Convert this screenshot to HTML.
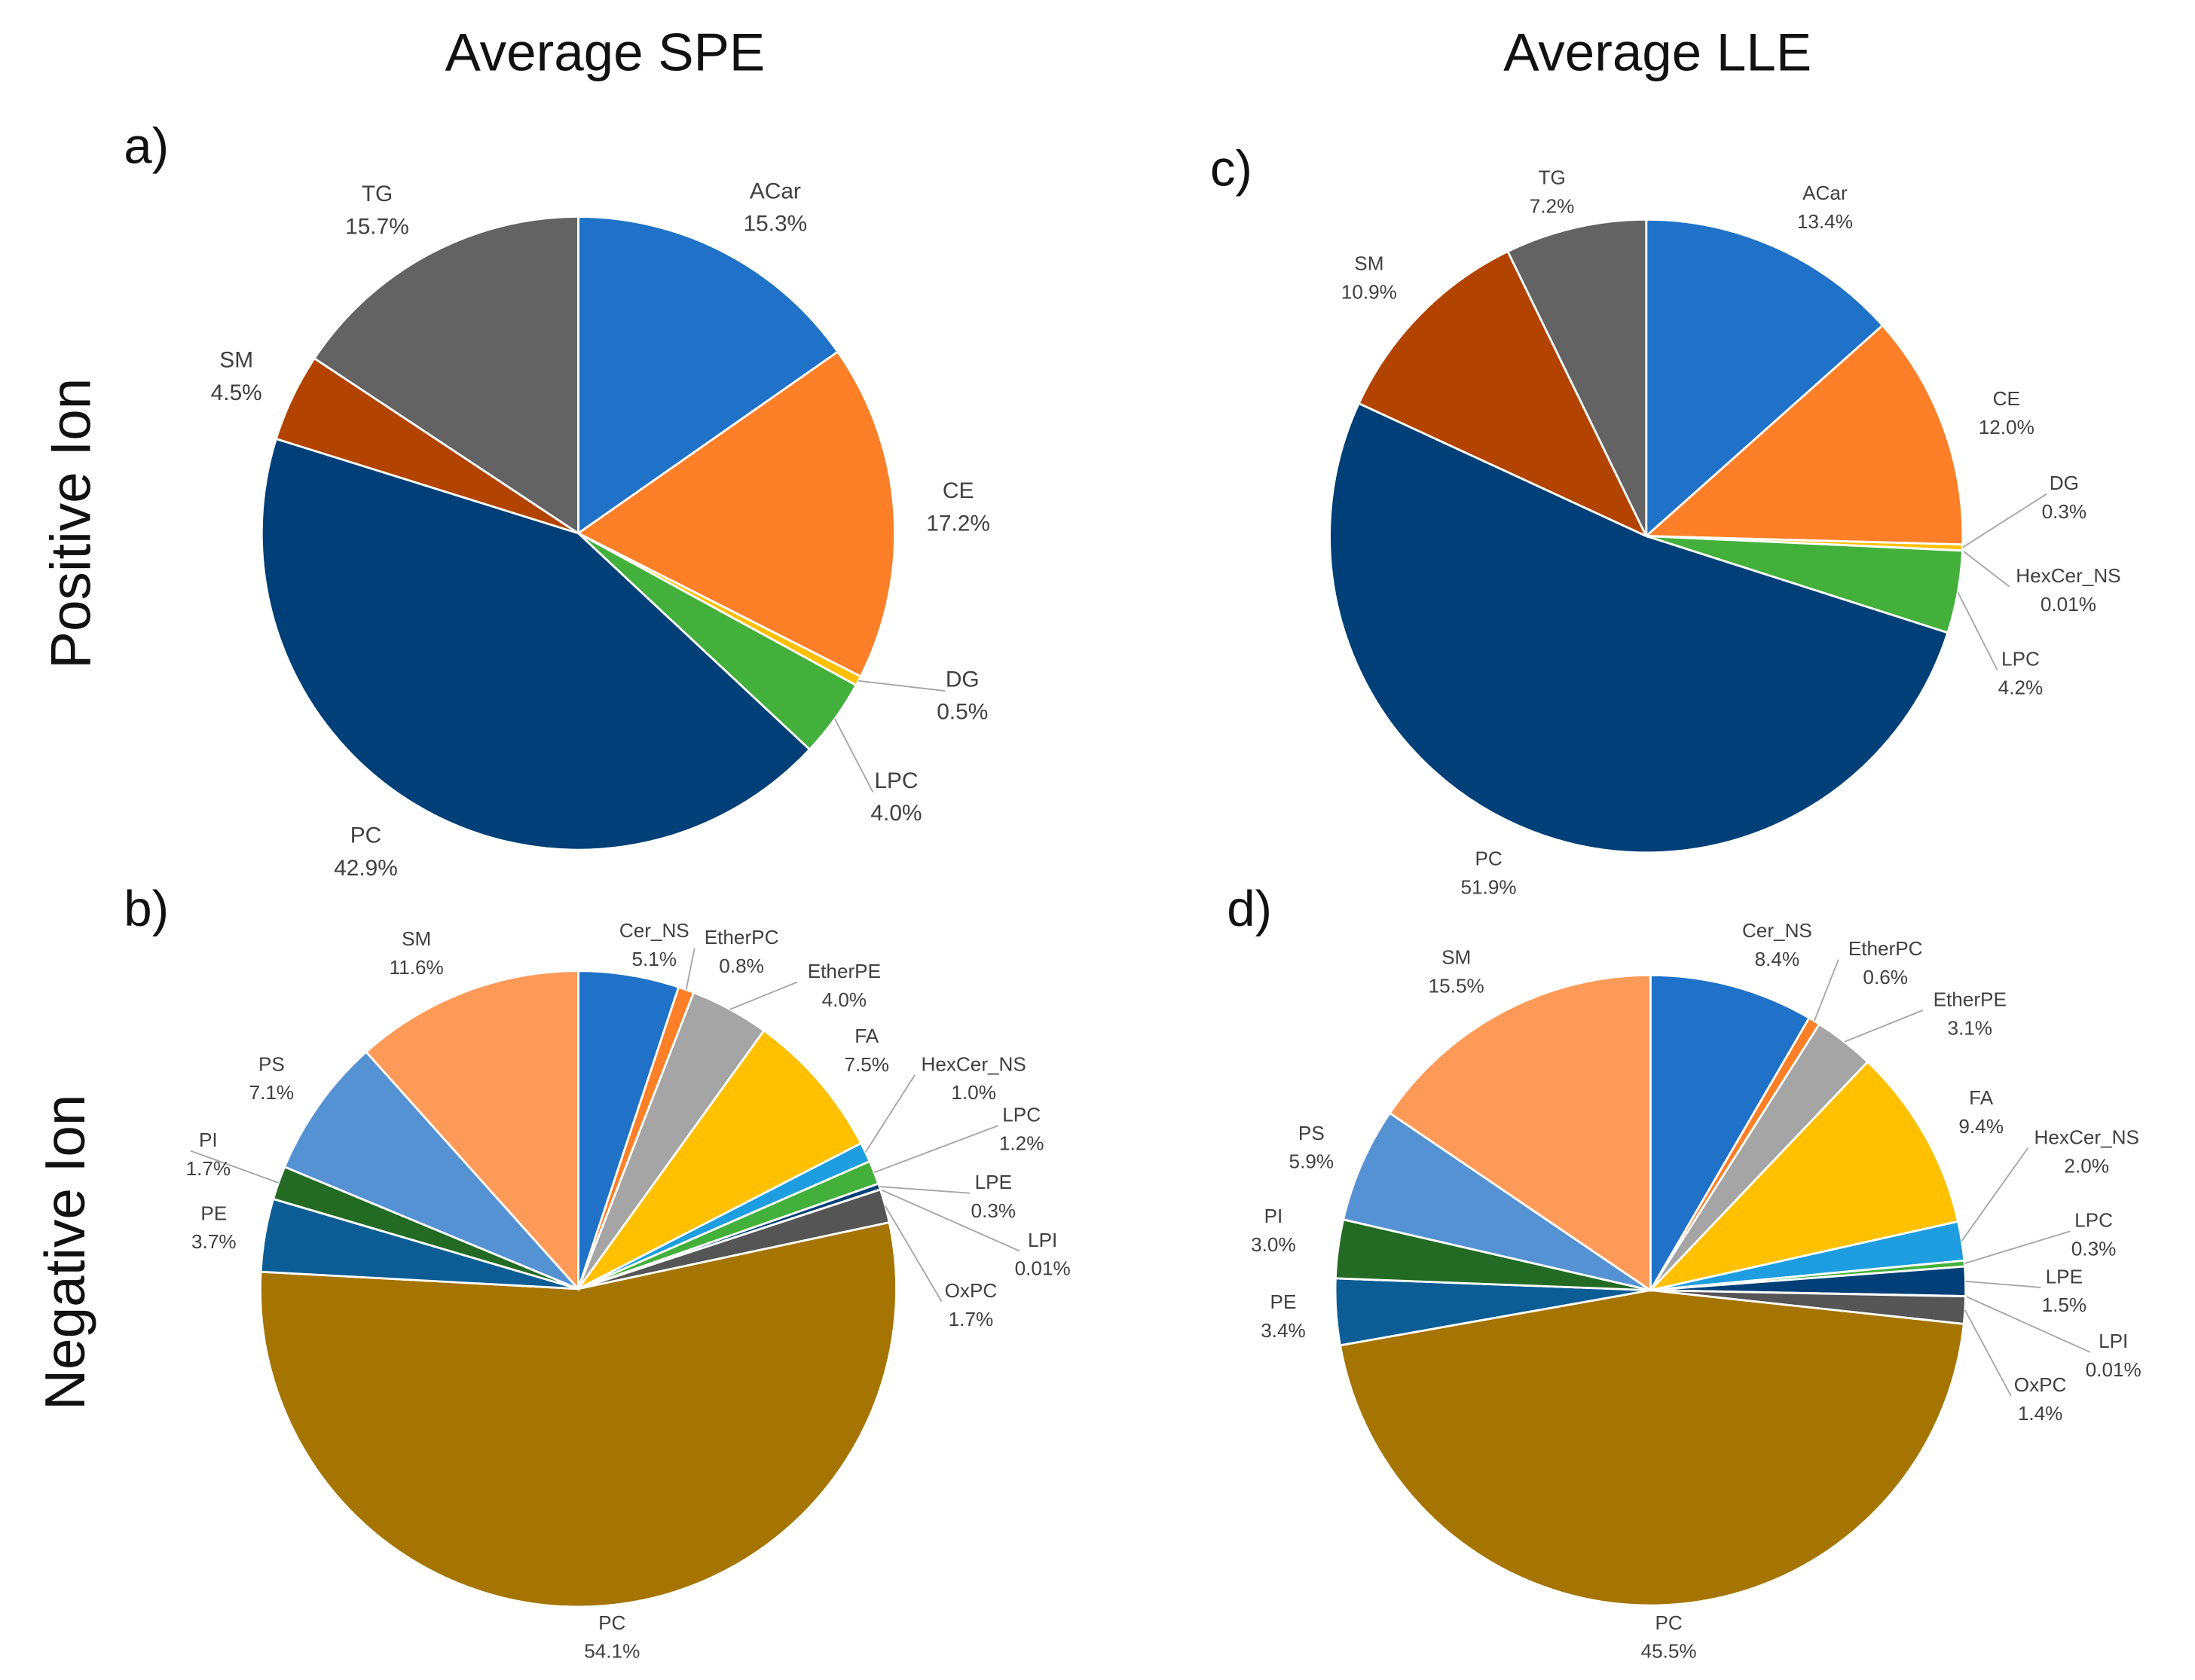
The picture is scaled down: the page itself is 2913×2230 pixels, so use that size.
<!DOCTYPE html>
<html><head><meta charset="utf-8"><style>
html,body{margin:0;padding:0;background:#fff;}
svg{display:block;}
text{font-family:"Liberation Sans",sans-serif;}
</style></head><body>
<svg id="chart" width="2913" height="2230" viewBox="0 0 1560 1194" preserveAspectRatio="none" xmlns="http://www.w3.org/2000/svg">
<rect width="1560" height="1194" fill="#fff"/>
<text x="430" y="50" font-size="38" text-anchor="middle" fill="#111">Average SPE</text>
<text x="1178" y="50" font-size="38" text-anchor="middle" fill="#111">Average LLE</text>
<text x="88" y="116" font-size="36" fill="#111">a)</text>
<text x="860" y="132" font-size="36" fill="#111">c)</text>
<text x="88" y="658" font-size="36" fill="#111">b)</text>
<text x="872" y="658" font-size="36" fill="#111">d)</text>
<text transform="translate(64,372) rotate(-90)" font-size="40" text-anchor="middle" fill="#111">Positive Ion</text>
<text transform="translate(60,890) rotate(-90)" font-size="40" text-anchor="middle" fill="#111">Negative Ion</text>
<g id="pies"></g>
</svg>
<script>
// Panel a) SPE positive
const catsA = ["ACar","CE","DG","LPC","PC","SM","TG"];
const valsA = [15.3,17.2,0.5,4.0,42.9,4.5,15.7];
const colsA = ["#1f72c8","#fd7f28","#fdbf00","#43b03b","#003f77","#b24300","#636363"];
const labA = [[551,136],[681,349],[684,483],[637,555],[260,594],[168,256],[268,138]];
const leadA = ["DG","LPC"];
// Panel c) LLE positive
const catsC = ["ACar","CE","DG","HexCer_NS","LPC","PC","SM","TG"];
const valsC = [13.4,12.0,0.3,0.01,4.2,51.9,10.9,7.2];
const colsC = ["#1f72c8","#fd7f28","#fdbf00","#1e9ee0","#43b03b","#003f77","#b24300","#636363"];
const labC = [[1297,137],[1426,283],[1467,343],[1470,409],[1436,468],[1058,610],[973,187],[1103,126]];
const leadC = ["DG","HexCer_NS","LPC"];
// Panel b) SPE negative
const catsB = ["Cer_NS","EtherPC","EtherPE","FA","HexCer_NS","LPC","LPE","LPI","OxPC","PC","PE","PI","PS","SM"];
const valsB = [5.1,0.8,4.0,7.5,1.0,1.2,0.3,0.01,1.7,54.1,3.7,1.7,7.1,11.6];
const colsB = ["#1f72c8","#fd7f28","#a5a5a5","#ffc000","#1e9ee0","#43b03b","#003f77","#9a4a10","#555555","#a67400","#0c5d96","#236b24","#5592d4","#fe9a57"];
const labB = [[465,661],[527,666],[600,690],[616,736],[692,756],[726,792],[706,840],[741,881],[690,917],[435,1153],[152,862],[148,810],[193,756],[296,667]];
const leadB = ["EtherPC","EtherPE","HexCer_NS","LPC","LPE","LPI","OxPC","PI"];
// Panel d) LLE negative
const catsD = catsB;
const valsD = [8.4,0.6,3.1,9.4,2.0,0.3,1.5,0.01,1.4,45.5,3.4,3.0,5.9,15.5];
const colsD = colsB;
const labD = [[1263,661],[1340,674],[1400,710],[1408,780],[1483,808],[1488,867],[1467,907],[1502,953],[1450,984],[1186,1153],[912,925],[905,864],[932,805],[1035,680]];
const leadD = ["EtherPC","EtherPE","HexCer_NS","LPC","LPE","LPI","OxPC"];

const NS="http://www.w3.org/2000/svg";
const root=document.getElementById('pies');
function fmt(v){return (v<0.1? v.toFixed(2): v.toFixed(1))+"%";}
function pt(cx,cy,r,a){return [cx+r*Math.sin(a), cy-r*Math.cos(a)];}
function drawPie(id,cx,cy,r,cats,vals,cols,labs,fs,leads){
  const g=document.createElementNS(NS,'g');
  
  
  root.appendChild(g);
  const tot=vals.reduce((a,b)=>a+b,0);
  let a0=0;
  cats.forEach((c,i)=>{
    const a1=a0+vals[i]/tot*2*Math.PI;
    const p0=pt(cx,cy,r,a0), p1=pt(cx,cy,r,a1);
    const large=(a1-a0)>Math.PI?1:0;
    const path=document.createElementNS(NS,'path');
    path.setAttribute('d',`M${cx},${cy} L${p0[0]},${p0[1]} A${r},${r} 0 ${large} 1 ${p1[0]},${p1[1]} Z`);
    path.setAttribute('fill',cols[i]);
    path.setAttribute('stroke','#fff');
    path.setAttribute('stroke-width','1.5');
    
    
    g.appendChild(path);
    const am=(a0+a1)/2;
    const [lx,ly]=labs[i];
    if(leads.indexOf(c)>=0){
      const pe=pt(cx,cy,r,am);
      const ln=document.createElementNS(NS,'polyline');
      const ex=lx-c.length*4.2-4, ey=ly+8;
      ln.setAttribute('points',`${pe[0]},${pe[1]} ${ex},${ey}`);
      ln.setAttribute('fill','none');
      ln.setAttribute('stroke','#a6a6a6');
      ln.setAttribute('stroke-width','1');
      
      
      g.appendChild(ln);
    }
    const t=document.createElementNS(NS,'text');
    t.setAttribute('x',lx);
    t.setAttribute('y',ly+5);
    t.setAttribute('font-size',fs);
    t.setAttribute('text-anchor','middle');
    t.setAttribute('fill','#404040');
    
    
    const s1=document.createElementNS(NS,'tspan');
    s1.setAttribute('x',lx); s1.textContent=c;
    const s2=document.createElementNS(NS,'tspan');
    s2.setAttribute('x',lx); s2.setAttribute('dy',fs*1.45); s2.textContent=fmt(vals[i]);
    t.appendChild(s1); t.appendChild(s2);
    g.appendChild(t);
    a0=a1;
  });
}
drawPie('a',411,379,225,catsA,valsA,colsA,labA,16,leadA);
drawPie('c',1170,381,225,catsC,valsC,colsC,labC,14,leadC);
drawPie('b',411,916,226,catsB,valsB,colsB,labB,14,leadB);
drawPie('d',1173,917,224,catsD,valsD,colsD,labD,14,leadD);
</script>
</body></html>
